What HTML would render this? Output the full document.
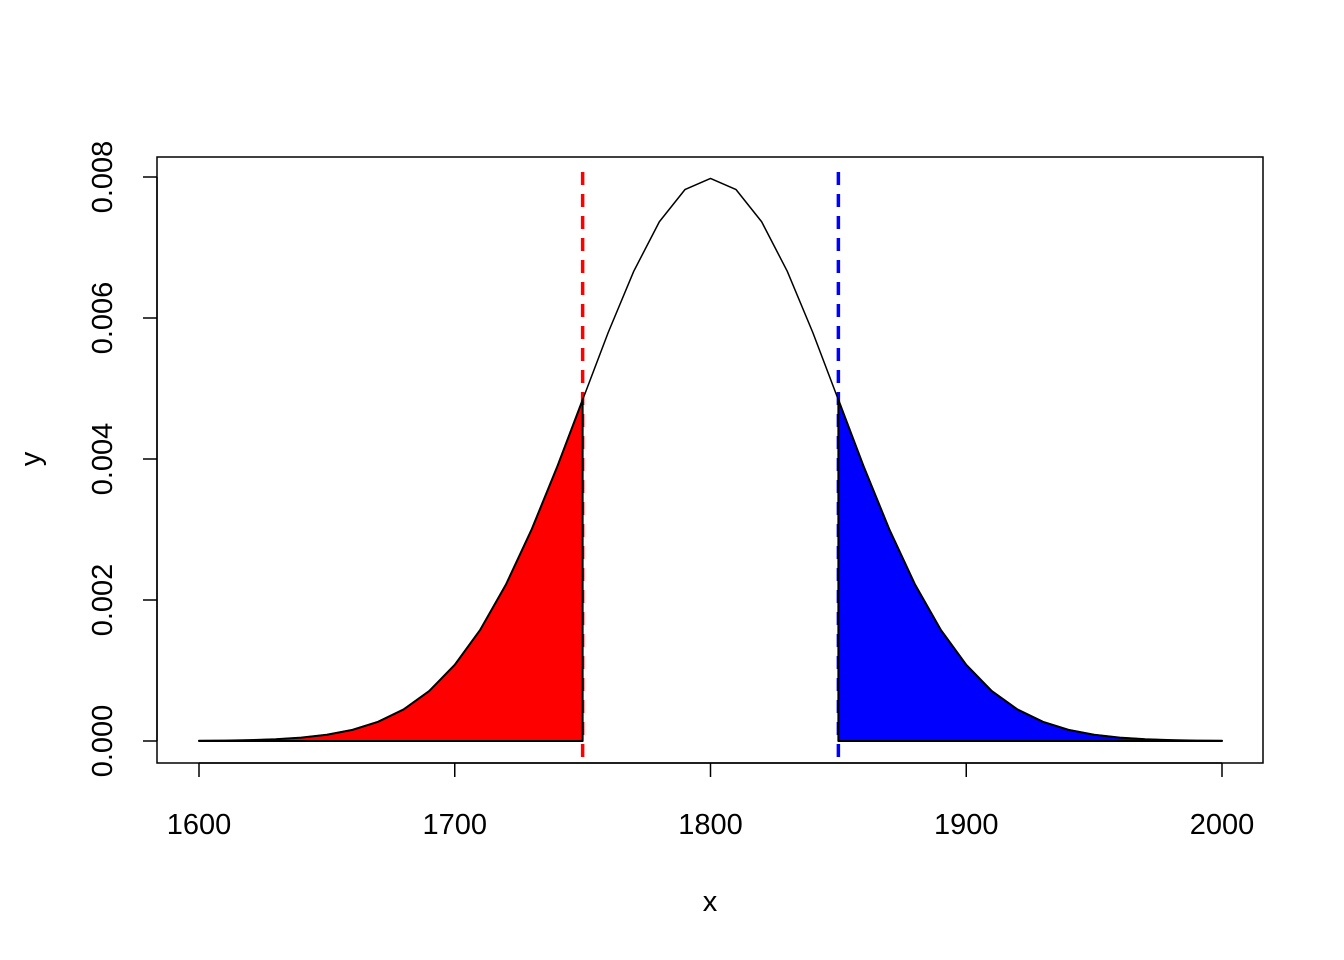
<!DOCTYPE html>
<html><head><meta charset="utf-8"><style>body{margin:0;background:#fff}svg{display:block}text{font-family:"Liberation Sans",Arial,sans-serif;font-size:29px;fill:#000}</style></head>
<body>
<svg id="chart" width="1344" height="960" viewBox="0 0 1344 960" xmlns="http://www.w3.org/2000/svg">
<rect x="157" y="157" width="1106" height="606" fill="none" stroke="#000" stroke-width="1.5"/>
<g id="g"></g>
<text x="710" y="911" text-anchor="middle">x</text>
<text transform="translate(40,459) rotate(-90)" text-anchor="middle">y</text>
</svg>
<script>
const xs=[1600,1610,1620,1630,1640,1650,1660,1670,1680,1690,1700,1710,1720,1730,1740,1750,1760,1770,1780,1790,1800,1810,1820,1830,1840,1850,1860,1870,1880,1890,1900,1910,1920,1930,1940,1950,1960,1970,1980,1990,2000];
const ys=[0.0000027,0.0000058,0.0000122,0.0000246,0.0000476,0.0000886,0.000158,0.000272,0.000448,0.000709,0.00108,0.001579,0.002218,0.002995,0.003884,0.004839,0.005794,0.006664,0.007365,0.007821,0.007979,0.007821,0.007365,0.006664,0.005794,0.004839,0.003884,0.002995,0.002218,0.001579,0.00108,0.000709,0.000448,0.000272,0.000158,0.0000886,0.0000476,0.0000246,0.0000122,0.0000058,0.0000027];
const xTicks=[1600,1700,1800,1900,2000];
const yTicks=[0,0.002,0.004,0.006,0.008];
const yTickLabels=["0.000","0.002","0.004","0.006","0.008"];
const lowerCut=[1750];
const upperCut=[1850];
const NS="http://www.w3.org/2000/svg";
const g=document.getElementById('g');
const X=v=>199+(v-1600)*(1222-199)/400;
const Y=v=>741-v*(741-177)/0.008;
function mk(t,a){const e=document.createElementNS(NS,t);for(const k in a)e.setAttribute(k,a[k]);g.appendChild(e);return e;}
let e=mk('line',{x1:X(xTicks[0]),x2:X(xTicks[xTicks.length-1]),y1:763,y2:763,stroke:'#000','stroke-width':1.5});


xTicks.forEach(t=>{let l=mk('line',{x1:X(t),x2:X(t),y1:763,y2:777,stroke:'#000','stroke-width':1.5});


let tx=mk('text',{x:X(t),y:834,'text-anchor':'middle'});tx.textContent=t;

});
e=mk('line',{x1:157,x2:157,y1:Y(yTicks[0]),y2:Y(yTicks[yTicks.length-1]),stroke:'#000','stroke-width':1.5});


yTicks.forEach((t,i)=>{let l=mk('line',{x1:143,x2:157,y1:Y(t),y2:Y(t),stroke:'#000','stroke-width':1.5});


let tx=mk('text',{transform:`translate(112,${Y(t)}) rotate(-90)`,'text-anchor':'middle'});tx.textContent=yTickLabels[i];

});
e=mk('line',{x1:X(lowerCut[0]),x2:X(lowerCut[0]),y1:172,y2:763,stroke:'#f00','stroke-width':3.5,'stroke-dasharray':'13 9'});


e=mk('line',{x1:X(upperCut[0]),x2:X(upperCut[0]),y1:172,y2:763,stroke:'#00f','stroke-width':3.5,'stroke-dasharray':'13 9'});


e=mk('polyline',{points:xs.map((x,i)=>X(x)+','+Y(ys[i])).join(' '),fill:'none',stroke:'#000','stroke-width':1.5,'stroke-linejoin':'round'});


function area(cond,col,name){const pts=[];xs.forEach((x,i)=>{if(cond(x))pts.push([x,ys[i]]);});
const s=[X(pts[0][0])+','+Y(0)].concat(pts.map(p=>X(p[0])+','+Y(p[1]))).concat([X(pts[pts.length-1][0])+','+Y(0)]);
let p=mk('polygon',{points:s.join(' '),fill:col,stroke:'#000','stroke-width':2,'stroke-linejoin':'round'});

}
area(x=>x<=lowerCut[0],'#f00','lower-tail-area');
area(x=>x>=upperCut[0],'#00f','upper-tail-area');
</script>
</body></html>
